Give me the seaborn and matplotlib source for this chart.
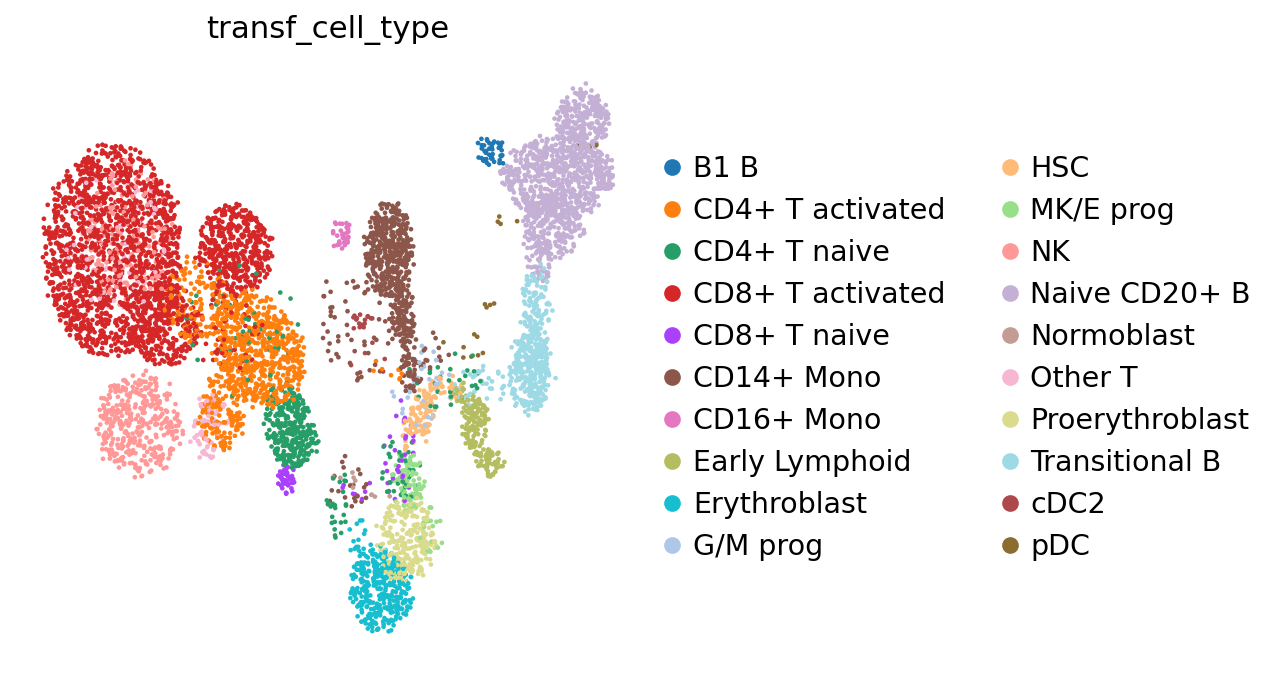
import numpy as np
import pandas as pd
import matplotlib
matplotlib.use('Agg')
import matplotlib.pyplot as plt
from matplotlib.lines import Line2D
import seaborn as sns

# categories + scanpy default_20 colours
cell_types = ['B1 B', 'CD4+ T activated', 'CD4+ T naive', 'CD8+ T activated',
              'CD8+ T naive', 'CD14+ Mono', 'CD16+ Mono', 'Early Lymphoid',
              'Erythroblast', 'G/M prog', 'HSC', 'MK/E prog', 'NK',
              'Naive CD20+ B', 'Normoblast', 'Other T', 'Proerythroblast',
              'Transitional B', 'cDC2', 'pDC']
palette = ['#1f77b4', '#ff7f0e', '#279e68', '#d62728', '#aa40fc', '#8c564b',
           '#e377c2', '#b5bd61', '#17becf', '#aec7e8', '#ffbb78', '#98df8a',
           '#ff9896', '#c5b0d5', '#c49c94', '#f7b6d2', '#dbdb8d', '#9edae5',
           '#ad494a', '#8c6d31']

# cluster shapes (embedding units = picture px)
# (centre x, centre y, radius x, radius y, angle, n cells)
b1_b = [(492, 152, 14, 15, 0, 45)]
cd4_t_activated = [(258, 350, 42, 60, -25, 620), (222, 412, 22, 38, 0, 160),
                   (195, 300, 30, 40, 0, 140), (385, 375, 20, 15, 0, 8)]
cd4_t_naive = [(290, 428, 24, 42, -10, 300), (240, 330, 60, 70, 0, 45),
               (338, 505, 12, 30, 0, 25), (445, 380, 40, 30, 0, 30),
               (400, 470, 20, 35, 0, 35)]
cd8_t_activated = [(112, 252, 68, 106, 0, 1550), (165, 325, 32, 42, 0, 260),
                   (235, 250, 36, 46, -15, 430), (225, 335, 40, 40, 0, 60)]
cd8_t_naive = [(287, 480, 7, 14, 0, 45), (400, 450, 18, 55, 0, 30),
               (355, 490, 15, 10, 0, 8)]
cd14_mono = [(390, 250, 22, 48, 0, 430), (403, 320, 10, 30, 0, 120),
             (410, 370, 8, 20, 0, 50), (352, 325, 38, 55, 0, 55),
             (350, 485, 22, 30, 0, 20), (430, 350, 25, 15, 0, 15)]
cd16_mono = [(341, 234, 9, 16, 0, 35)]
early_lymphoid = [(476, 425, 12, 30, 0, 120), (490, 462, 15, 12, 0, 55),
                  (460, 395, 10, 10, 0, 20)]
erythroblast = [(380, 590, 30, 42, -10, 340), (360, 535, 10, 20, 0, 15)]
g_m_prog = [(420, 385, 30, 40, 0, 30)]
hsc = [(420, 420, 12, 32, 15, 95), (445, 385, 15, 10, 0, 30)]
mk_e_prog = [(408, 483, 14, 26, 0, 95), (430, 530, 10, 25, 0, 20)]
nk = [(140, 425, 42, 50, 0, 380), (130, 235, 42, 72, 0, 160)]
naive_cd20_b = [(582, 120, 26, 30, 0, 260), (558, 178, 55, 40, 0, 700),
                (552, 228, 30, 28, 0, 200), (540, 262, 12, 20, 0, 50)]
normoblast = [(345, 478, 15, 10, 0, 8), (380, 500, 10, 10, 0, 4)]
other_t = [(210, 425, 16, 35, 0, 75), (115, 245, 50, 80, 0, 80)]
proerythroblast = [(406, 540, 28, 42, 0, 260)]
transitional_b = [(530, 370, 20, 42, 0, 330), (537, 300, 14, 32, 0, 100),
                  (480, 390, 30, 25, 0, 40)]
cdc2 = [(362, 320, 10, 12, 0, 15), (370, 360, 20, 20, 0, 6)]
pdc = [(490, 307, 6, 4, 0, 4), (460, 350, 25, 20, 0, 8),
       (510, 220, 12, 12, 0, 4), (585, 145, 15, 10, 0, 3)]

clusters = [b1_b, cd4_t_activated, cd4_t_naive, cd8_t_activated, cd8_t_naive,
            cd14_mono, cd16_mono, early_lymphoid, erythroblast, g_m_prog, hsc,
            mk_e_prog, nk, naive_cd20_b, normoblast, other_t, proerythroblast,
            transitional_b, cdc2, pdc]

rng = np.random.default_rng(7)
frames = []
for ct, parts in zip(cell_types, clusters):
    for cx, cy, rx, ry, ang, n in parts:
        r = np.sqrt(rng.random(n))
        t = rng.random(n) * 2 * np.pi
        u, v = r * np.cos(t) * rx, r * np.sin(t) * ry
        a = np.deg2rad(ang)
        x = cx + u * np.cos(a) - v * np.sin(a) + rng.normal(0, 2.5, n)
        y = cy + u * np.sin(a) + v * np.cos(a) + rng.normal(0, 2.5, n)
        frames.append(pd.DataFrame({'UMAP1': x, 'UMAP2': 677 - y, 'cell_type': ct}))

df = pd.concat(frames, ignore_index=True).sample(frac=1, random_state=3)

fig = plt.figure(figsize=(1277 / 150, 677 / 150), dpi=150)
ax = fig.add_axes([16 / 1277, 0, (640 - 16) / 1277, (677 - 57) / 677])
sns.scatterplot(data=df, x='UMAP1', y='UMAP2', hue='cell_type',
                hue_order=cell_types, palette=palette, s=5, linewidth=0,
                legend=False, ax=ax)
ax.set_xlim(16, 640)
ax.set_ylim(0, 620)
ax.set_axis_off()
ax.set_title('transf_cell_type', fontsize=14.8, pad=9)

handles = [Line2D([0], [0], marker='o', ls='', color=c, markersize=7) for c in palette]
fig.legend(handles, cell_types, ncol=2, loc='center left',
           bbox_to_anchor=(643.7 / 1277, 0.471), frameon=False, fontsize=13.7,
           borderpad=0, handlelength=1.0, handletextpad=0.22,
           columnspacing=1.75, labelspacing=0.49)

fig.savefig('out.png', dpi=150)
